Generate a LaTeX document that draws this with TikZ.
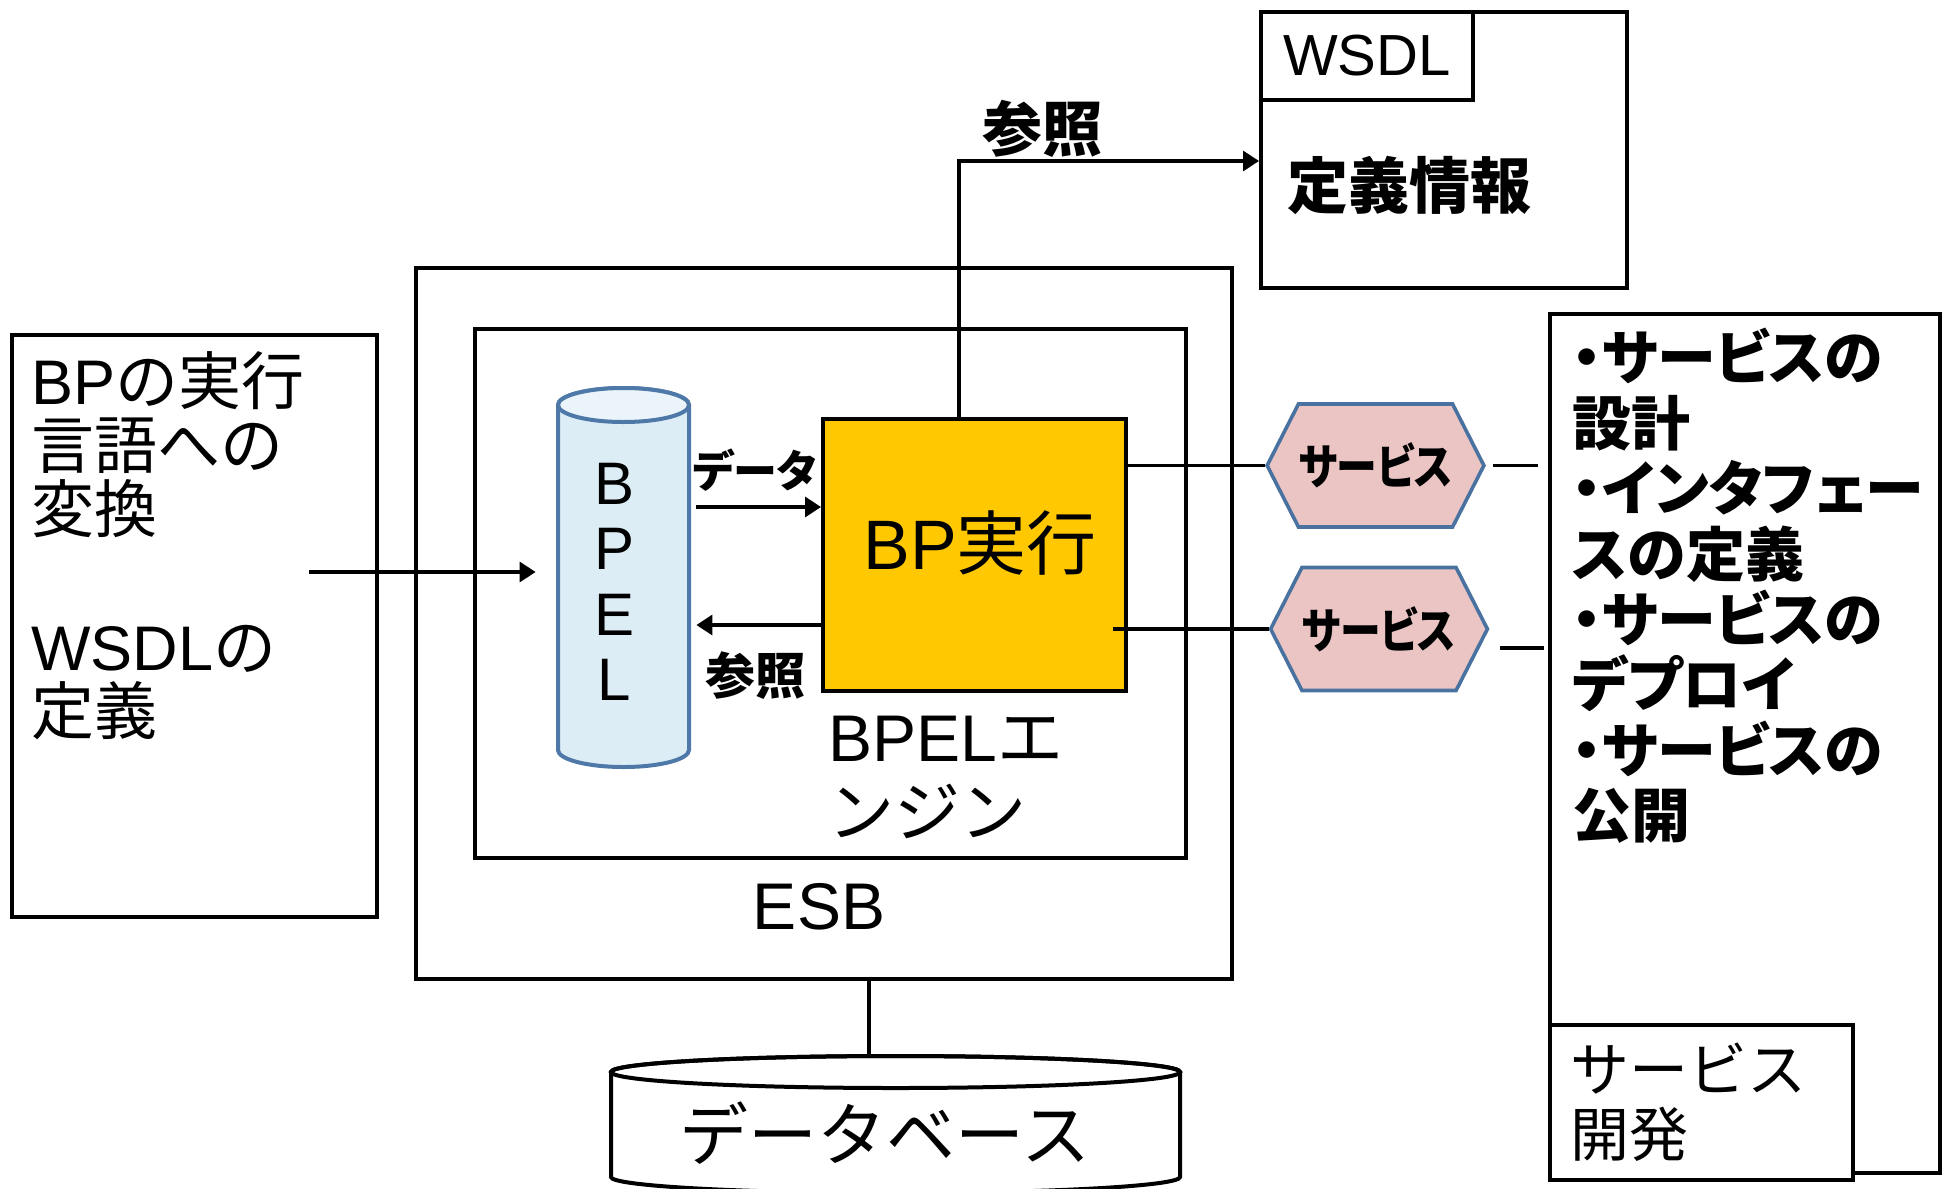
\documentclass[tikz,border=0pt]{standalone}
\usepackage{fontspec}
\usepackage{graphicx}
\setmainfont{Noto Sans CJK JP}
\newfontfamily\jpp{Noto Sans CJK JP}[RawFeature=+palt]
\newfontfamily\lat{Liberation Sans}
\usetikzlibrary{arrows.meta,shapes.symbols,calc}
\definecolor{bpgold}{HTML}{FFC800}
\definecolor{hexfill}{HTML}{EBC5C4}
\definecolor{hexline}{HTML}{4A72A0}
\definecolor{cylfill}{HTML}{DDEDF6}
\definecolor{cyltop}{HTML}{EAF4FA}
\definecolor{cylline}{HTML}{4D78A8}
\newcommand\fs[2]{\fontsize{#1}{#2}\selectfont}
\begin{document}
\begin{tikzpicture}[x=0.5pt,y=-0.5pt,
  frame/.style={draw=black,line width=2pt,inner sep=0pt},
  wire/.style={line width=1.6pt},
  arr/.style={wire,-{Triangle[length=8pt,width=10pt]}},
  txt/.style={inner sep=0pt,align=left},
  hexa/.style={signal,signal to=east and west,signal pointer angle=126,
    draw=hexline,fill=hexfill,line width=1.8pt,minimum width=107.5pt,
    minimum height=61.5pt,inner sep=0pt,font=\jpp\bfseries\fs{24pt}{26pt}}]
\useasboundingbox (0,0) rectangle (1946,1188);
\clip (0,0) rectangle (1946,1188);
\fill[white] (0,0) rectangle (1946,1188);

% conversion step on the left
\node[frame,minimum width=182.5pt,minimum height=291pt] (conv) at (194.5,626) {};
\node[txt,anchor=north west,font=\fs{31.5pt}{32pt}] (convtext) at (31,351)
  {{\lat BP}の実行\\言語への\\変換\\[37pt]{\lat WSDL}の\\定義};

% ESB and the BPEL engine inside it
\node[frame,minimum width=408pt,minimum height=355.5pt] (esb) at (824,623.5) {};
\node[inner sep=0pt,font=\lat\fs{33pt}{36pt}] (esblabel) at (819,907) {ESB};
\node[frame,minimum width=355.5pt,minimum height=264.5pt] (engine) at (830.5,593.5) {};
\node[txt,anchor=north west,font=\fs{33pt}{37.5pt}] (enginelabel) at (828,716)
  {{\lat BPEL}エ\\ンジン};

% BPEL store
\node[minimum width=65.5pt,minimum height=189.5pt,inner sep=0pt] (bpel) at (623.5,577.5) {};
\filldraw[draw=cylline,fill=cylfill,line width=2pt]
  (558,405) -- (558,750)
  arc[start angle=180,end angle=360,x radius=32.75pt,y radius=8.5pt]
  -- (689,405)
  arc[start angle=0,end angle=180,x radius=32.75pt,y radius=8.5pt] -- cycle;
\filldraw[draw=cylline,fill=cyltop,line width=2pt]
  (623.5,405) ellipse [x radius=32.75pt,y radius=8.5pt];
\node[inner sep=0pt,align=center,font=\lat\fs{30pt}{32.7pt}] (bpelletters) at (614,582)
  {B\\P\\E\\L};

% process execution
\node[frame,fill=bpgold,minimum width=151.5pt,minimum height=136pt] (bp) at (974.5,555) {};
\node[inner sep=0pt,font=\fs{35pt}{37pt}] (bptext) at (980,543) {{\lat BP}実行};

% WSDL definitions
\node[frame,minimum width=183pt,minimum height=138pt] (wsdl) at (1444,150) {};
\node[frame,minimum width=106pt,minimum height=44pt,font=\lat\fs{29pt}{30pt}] (wsdltag) at (1367,56) {WSDL};
\node[inner sep=0pt,font=\bfseries\fs{30.5pt}{32pt}] (wsdlinfo) at (1409,185) {定義情報};

% service development
\node[frame,minimum width=195pt,minimum height=429.5pt] (dev) at (1745,743.5) {};
\node[frame,fill=white,minimum width=151.5pt,minimum height=77.5pt] (devtag) at (1701.5,1102.5) {};
\node[txt,anchor=north west,font=\fs{29.5pt}{32.5pt}] (devtagtext) at (1570,1042) {サービス\\開発};
\node[txt,anchor=north west,font=\jpp\bfseries\fs{29.5pt}{32.7pt}] (devlist) at (1572,328)
  {・サービスの\\設計\\・インタフェー\\スの定義\\・サービスの\\デプロイ\\・サービスの\\公開};

% services
\node[hexa] (svc1) at (1375.5,465.5) {\scalebox{0.85}[1]{サービス}};
\node[hexa] (svc2) at (1379,629) {\scalebox{0.85}[1]{サービス}};

% database
\node[minimum width=284.5pt,minimum height=69pt,inner sep=0pt] (db) at (895.5,1124) {};
\filldraw[draw=black,fill=white,line width=2pt]
  (611,1072) -- (611,1177)
  arc[start angle=180,end angle=360,x radius=142.25pt,y radius=8pt]
  -- (1180,1072)
  arc[start angle=0,end angle=180,x radius=142.25pt,y radius=8pt] -- cycle;
\draw[line width=2pt] (895.5,1072) ellipse [x radius=142.25pt,y radius=8pt];
\node[inner sep=0pt,font=\fs{34.5pt}{36pt}] (dbtext) at (885,1133) {データベース};

% connectors
\coordinate (esbdb) at (869,979);
\draw[wire] (esb.south -| esbdb) -- (db.north -| esbdb);

\coordinate (bend) at (959,161);
\draw[arr] (bp.north -| bend) -- (bend) -- (wsdl.west |- bend);
\node[inner sep=0pt,font=\bfseries\fs{30pt}{32pt}] (reflabel) at (1042,129) {参照};

\coordinate (convout) at (309,572);
\coordinate (bpelin) at ([xshift=-11pt]bpel.west);
\draw[arr] (convout) -- (bpelin |- convout);

\coordinate (bpelout) at ([xshift=3.5pt]bpel.east);
\coordinate (datay) at (0,507);
\coordinate (refy) at (0,625);
\draw[arr] (bpelout |- datay) -- (bp.west |- datay);
\node[inner sep=0pt,font=\jpp\bfseries\fs{22pt}{24pt}] (datalabel) at (755,470) {データ};
\draw[arr] (bp.west |- refy) -- (bpelout |- refy);
\node[inner sep=0pt,font=\bfseries\fs{25pt}{27pt}] (refsmall) at (755,676) {参照};

\coordinate (bpin) at ([xshift=-7.5pt]bp.east);
\draw[wire] (bp.east |- svc1.west) -- (svc1.west);
\draw[wire] (bpin |- svc2.west) -- (svc2.west);
\draw[wire] ([xshift=3.5pt]svc1.east) -- ++(45,0);
\draw[wire] ($(svc2.east)+(11,19)$) -- ++(44,0);
\end{tikzpicture}
\end{document}
